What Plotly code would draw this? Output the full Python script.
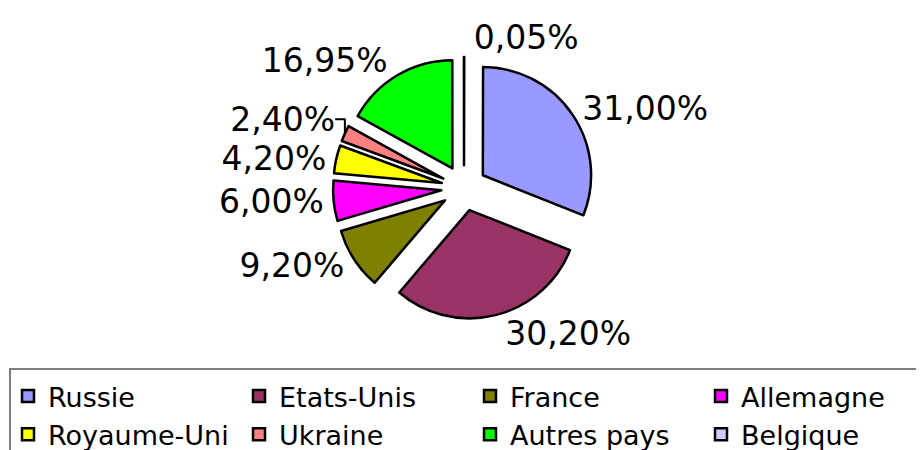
import plotly.graph_objects as go

countries = ["Russie", "Etats-Unis", "France", "Allemagne", "Royaume-Uni",
             "Ukraine", "Autres pays", "Belgique"]
shares = [31.00, 30.20, 9.20, 6.00, 4.20, 2.40, 16.95, 0.05]
colors = ["#9999FF", "#993366", "#808000", "#FF00FF", "#FFFF00",
          "#FF8080", "#00FF00", "#CCCCFF"]

W, H = 924, 450
OFF = 8  # page body margin offset


def px_x(X):
    return (X - OFF) / W


def px_y(Y):
    return 1 - (Y - OFF) / H


fig = go.Figure(go.Pie(
    labels=countries,
    values=shares,
    sort=False,
    direction="clockwise",
    rotation=0.12,
    pull=[0.21] * len(shares),
    marker=dict(colors=colors, line=dict(color="black", width=2.5)),
    textposition="outside",
    texttemplate="%{value:.2f}%",
    textfont=dict(family="DejaVu Sans", size=33, color="black"),
    hoverinfo="label+value",
    domain=dict(x=[px_x(464 - 277), px_x(464 + 277)],
                y=[px_y(188 + 131), px_y(188 - 131)]),
))

fig.update_layout(
    width=W, height=H,
    margin=dict(l=0, r=0, t=0, b=0, autoexpand=False),
    paper_bgcolor="white",
    plot_bgcolor="white",
    separators=", ",
    showlegend=True,
    legend=dict(
        orientation="h",
        x=0, xanchor="left",
        y=px_y(372), yanchor="top",
        entrywidth=186,
        font=dict(family="DejaVu Sans", size=27, color="black"),
        bgcolor="rgba(0,0,0,0)",
        borderwidth=0,
        traceorder="normal",
    ),
    shapes=[dict(
        type="rect", xref="paper", yref="paper",
        x0=px_x(10), x1=1.05, y0=-0.1, y1=px_y(369),
        line=dict(color="#808080", width=2), fillcolor="rgba(0,0,0,0)",
        layer="below",
    )],
)

fig.write_html("out.html")
